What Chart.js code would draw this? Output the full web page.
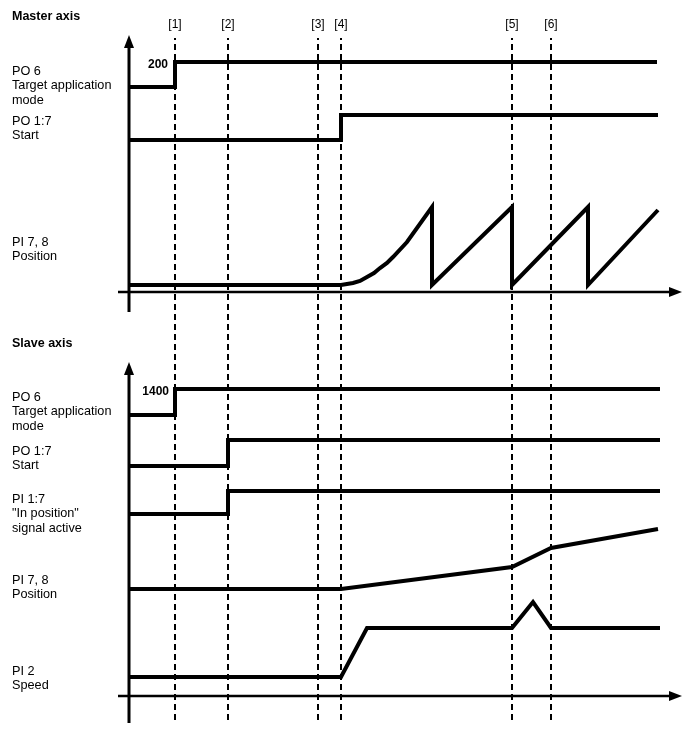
<!DOCTYPE html>
<html>
<head>
<meta charset="utf-8">
<script src="https://cdn.jsdelivr.net/npm/chart.js@4"></script>
<style>
  html, body { margin: 0; padding: 0; background: #fff; }
  #wrap { width: 693px; height: 730px; }
</style>
</head>
<body>
<div id="wrap"><canvas id="chart" width="693" height="730"></canvas></div>
<script>
// eventos (eje de tiempo) y sus etiquetas
const markerTimes = [175, 228, 318, 341, 512, 551];
const markerLabels = ['[1]', '[2]', '[3]', '[4]', '[5]', '[6]'];
const markerSpan = [10, 692];

// Master axis
const masterPO6_x = [129, 175, 175, 657];
const masterPO6_y = [643, 643, 668, 668];
const masterStart_x = [129, 341, 341, 658];
const masterStart_y = [590, 590, 615, 615];
const masterPos_x = [129, 341, 347, 353, 360, 367, 374, 380, 387, 393, 407, 432, 432, 512, 512, 588, 588, 658];
const masterPos_y = [445, 445, 446, 447, 449, 453, 457, 462, 467, 473, 488, 523, 445, 523, 445, 523, 445, 520];

// Slave axis
const slavePO6_x = [129, 175, 175, 660];
const slavePO6_y = [315, 315, 341, 341];
const slaveStart_x = [129, 228, 228, 660];
const slaveStart_y = [264, 264, 290, 290];
const slaveInPos_x = [129, 228, 228, 660];
const slaveInPos_y = [216, 216, 239, 239];
const slavePos_x = [129, 341, 512, 551, 658];
const slavePos_y = [141, 141, 163, 182, 201];
const slaveSpeed_x = [129, 341, 367, 512, 533, 551, 660];
const slaveSpeed_y = [53, 53, 102, 102, 128, 102, 102];

// ejes de cada panel
const axesX = { master: [118, 670], slave: [118, 670] };
const axesY = { master: [418, 685], slave: [7, 358] };
const axisOrigin = { master: 438, slave: 34 };
const axisLeft = 129;

// textos
const panelTitles = ['Master axis', 'Slave axis'];
const masterLabels = [['PO 6', 'Target application', 'mode'], ['PO 1:7', 'Start'], ['PI 7, 8', 'Position']];
const slaveLabels = [['PO 6', 'Target application', 'mode'], ['PO 1:7', 'Start'], ['PI 1:7', '"In position"', 'signal active'], ['PI 7, 8', 'Position'], ['PI 2', 'Speed']];
const valueTags = ['200', '1400'];

function pts(xs, ys) {
  return xs.map((x, i) => ({ x: x, y: ys[i] }));
}

function signal(xs, ys) {
  return { data: pts(xs, ys), showLine: true, borderColor: '#000', borderWidth: 4, pointRadius: 0, fill: false, tension: 0 };
}

const datasets = [];
// lineas de evento discontinuas
markerTimes.forEach(t => {
  datasets.push({ data: pts([t, t], markerSpan), showLine: true, borderColor: '#000', borderWidth: 2, borderDash: [6, 4], pointRadius: 0 });
});
// ejes
['master', 'slave'].forEach(k => {
  datasets.push({ data: pts(axesX[k], [axisOrigin[k], axisOrigin[k]]), showLine: true, borderColor: '#000', borderWidth: 2.5, pointRadius: 0 });
  datasets.push({ data: pts([axisLeft, axisLeft], axesY[k]), showLine: true, borderColor: '#000', borderWidth: 3, pointRadius: 0 });
});
datasets.push(signal(masterPO6_x, masterPO6_y));
datasets.push(signal(masterStart_x, masterStart_y));
datasets.push(signal(masterPos_x, masterPos_y));
datasets.push(signal(slavePO6_x, slavePO6_y));
datasets.push(signal(slaveStart_x, slaveStart_y));
datasets.push(signal(slaveInPos_x, slaveInPos_y));
datasets.push(signal(slavePos_x, slavePos_y));
datasets.push(signal(slaveSpeed_x, slaveSpeed_y));

// textos y flechas
const textPlugin = {
  id: 'texts',
  afterDatasetsDraw(c) {
    const ctx = c.ctx;
    const sx = c.scales.x, sy = c.scales.y;
    const X = v => sx.getPixelForValue(v);
    const Y = v => sy.getPixelForValue(v);
    ctx.save();
    ctx.fillStyle = '#000';

    // flechas
    ['master', 'slave'].forEach(k => {
      const tx = X(axesX[k][1]) + 12, ty = Y(axisOrigin[k]);
      ctx.beginPath();
      ctx.moveTo(tx, ty); ctx.lineTo(tx - 13, ty - 5); ctx.lineTo(tx - 13, ty + 5); ctx.closePath(); ctx.fill();
      const vx = X(axisLeft), vy = Y(axesY[k][1]) - 10;
      ctx.beginPath();
      ctx.moveTo(vx, vy); ctx.lineTo(vx - 5, vy + 13); ctx.lineTo(vx + 5, vy + 13); ctx.closePath(); ctx.fill();
    });

    ctx.textBaseline = 'middle';
    ctx.textAlign = 'center';
    ctx.font = '12px "Liberation Sans", Arial, sans-serif';
    markerLabels.forEach((l, i) => ctx.fillText(l, X(markerTimes[i]), 25));

    ctx.textAlign = 'left';
    ctx.font = 'bold 12.5px "Liberation Sans", Arial, sans-serif';
    ctx.fillText(panelTitles[0], 12, 17);
    ctx.fillText(panelTitles[1], 12, 344);

    ctx.font = '12.7px "Liberation Sans", Arial, sans-serif';
    const masterTop = [71, 121, 242];
    masterLabels.forEach((g, i) => g.forEach((s, j) => ctx.fillText(s, 12, masterTop[i] + j * 14.5)));
    const slaveTop = [397, 451, 499, 580, 671];
    slaveLabels.forEach((g, i) => g.forEach((s, j) => ctx.fillText(s, 12, slaveTop[i] + j * 14.5)));

    ctx.font = 'bold 12px "Liberation Sans", Arial, sans-serif';
    ctx.textAlign = 'right';
    ctx.fillText(valueTags[0], X(168), 65);
    ctx.fillText(valueTags[1], X(169), 392);
    ctx.restore();
  }
};

const chart = new Chart(document.getElementById('chart'), {
  type: 'scatter',
  data: { datasets: datasets },
  options: {
    responsive: false,
    animation: false,
    layout: { padding: 0 },
    plugins: { legend: { display: false }, tooltip: { enabled: false } },
    scales: {
      x: { type: 'linear', min: 0, max: 693, display: false },
      y: { type: 'linear', min: 0, max: 730, display: false }
    }
  },
  plugins: [textPlugin]
});
</script>
</body>
</html>
